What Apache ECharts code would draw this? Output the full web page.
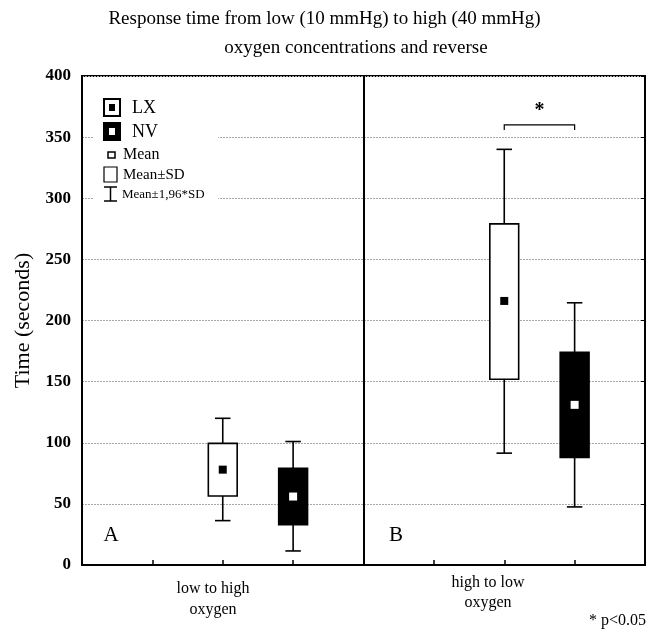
<!DOCTYPE html>
<html>
<head>
<meta charset="utf-8">
<script src="https://cdn.jsdelivr.net/npm/echarts@6/dist/echarts.min.js"></script>
<style>
  html, body { margin: 0; padding: 0; background: #fff; }
  #chart { width: 649px; height: 630px; }
</style>
</head>
<body>
<div id="chart"></div>
<script>
// 分组位置（x 轴 0-8，两个面板各占 4 格）
var categories = ['low to high\noxygen', 'high to low\noxygen'];
var lxPos = [2, 6];
var nvPos = [3, 7];

// LX 组
var lxMean = [78, 216];
var lxBoxLow = [56.5, 152];
var lxBoxHigh = [99.5, 279];
var lxWhiskerLow = [36.3, 91.5];
var lxWhiskerHigh = [120, 340];

// NV 组
var nvMean = [56, 131];
var nvBoxLow = [33, 88];
var nvBoxHigh = [79, 174];
var nvWhiskerLow = [11.5, 47.5];
var nvWhiskerHigh = [101, 214.5];

// 显著性标记
var sigFrom = [6];
var sigTo = [7];
var sigLevel = [360];

var yTicks = [0, 50, 100, 150, 200, 250, 300, 350, 400];

var serif = "'Liberation Serif', 'Times New Roman', serif";

function buildData (pos, wl, bl, m, bh, wh) {
  return pos.map(function (x, i) {
    return [x, wl[i], bl[i], m[i], bh[i], wh[i]];
  });
}

function makeRender (boxFill, meanFill) {
  return function (params, api) {
    var x = api.value(0);
    var pWL = api.coord([x, api.value(1)]);
    var pBL = api.coord([x, api.value(2)]);
    var pM = api.coord([x, api.value(3)]);
    var pBH = api.coord([x, api.value(4)]);
    var pWH = api.coord([x, api.value(5)]);
    var unit = api.size([1, 0])[0];
    var boxW = unit * 0.41;
    var capW = unit * 0.22;
    var ms = 8;
    var line = { stroke: '#000', lineWidth: 1.6 };
    return {
      type: 'group',
      children: [
        { type: 'line', shape: { x1: pWL[0], y1: pWL[1], x2: pBL[0], y2: pBL[1] }, style: line },
        { type: 'line', shape: { x1: pWH[0], y1: pWH[1], x2: pBH[0], y2: pBH[1] }, style: line },
        { type: 'line', shape: { x1: pWL[0] - capW / 2, y1: pWL[1], x2: pWL[0] + capW / 2, y2: pWL[1] }, style: line },
        { type: 'line', shape: { x1: pWH[0] - capW / 2, y1: pWH[1], x2: pWH[0] + capW / 2, y2: pWH[1] }, style: line },
        { type: 'rect', shape: { x: pBH[0] - boxW / 2, y: pBH[1], width: boxW, height: pBL[1] - pBH[1] },
          style: { fill: boxFill, stroke: '#000', lineWidth: 1.6 } },
        { type: 'rect', shape: { x: pM[0] - ms / 2, y: pM[1] - ms / 2, width: ms, height: ms },
          style: { fill: meanFill } }
      ]
    };
  };
}

var chart = echarts.init(document.getElementById('chart'));

chart.setOption({
  animation: false,
  backgroundColor: '#fff',
  grid: {
    left: 82, top: 76, right: 4, bottom: 65,
    outerBoundsMode: 'none',
    show: true, borderColor: '#000', borderWidth: 2
  },
  xAxis: {
    type: 'value', min: 0, max: 8, interval: 1,
    axisLine: { show: true, lineStyle: { color: '#000', width: 2 } },
    axisTick: { show: true, inside: true, length: 5, lineStyle: { color: '#000', width: 1.5 } },
    axisLabel: { show: false },
    splitLine: { show: false }
  },
  yAxis: [{
    type: 'value', min: 0, max: 400, interval: 50,
    name: 'Time (seconds)', nameLocation: 'middle', nameGap: 48,
    nameTextStyle: { fontFamily: serif, fontSize: 22, color: '#000' },
    axisLine: { show: true, lineStyle: { color: '#000', width: 2 } },
    axisTick: { show: false },
    axisLabel: {
      fontFamily: serif, fontSize: 17, fontWeight: 'bold', color: '#000', margin: 11,
      formatter: function (v) { return yTicks.indexOf(v) >= 0 ? String(v) : ''; }
    },
    splitLine: { show: true, lineStyle: { color: '#a8a8a8', type: [2, 1], width: 1 } }
  }, {
    type: 'value', min: 0, max: 400, interval: 50, position: 'right',
    axisLine: { show: true, lineStyle: { color: '#000', width: 2 } },
    axisTick: { show: true, inside: true, length: 4, lineStyle: { color: '#000' } },
    axisLabel: { show: false },
    splitLine: { show: false }
  }],
  series: [
    {
      name: 'LX', type: 'custom', z: 3,
      renderItem: makeRender('#fff', '#000'),
      encode: { x: 0, y: [1, 2, 3, 4, 5] },
      data: buildData(lxPos, lxWhiskerLow, lxBoxLow, lxMean, lxBoxHigh, lxWhiskerHigh),
      markLine: {
        silent: true, symbol: 'none', label: { show: false },
        lineStyle: { color: '#000', width: 2, type: 'solid' },
        data: [{ xAxis: 4 }]
      }
    },
    {
      name: 'NV', type: 'custom', z: 3,
      renderItem: makeRender('#000', '#fff'),
      encode: { x: 0, y: [1, 2, 3, 4, 5] },
      data: buildData(nvPos, nvWhiskerLow, nvBoxLow, nvMean, nvBoxHigh, nvWhiskerHigh)
    },
    {
      name: 'sig', type: 'custom', z: 3,
      renderItem: function (params, api) {
        var a = api.coord([api.value(0), api.value(2)]);
        var b = api.coord([api.value(1), api.value(2)]);
        return {
          type: 'group',
          children: [
            { type: 'polyline', shape: { points: [[a[0], a[1] + 5], a, b, [b[0], b[1] + 5]] },
              style: { stroke: '#000', lineWidth: 1.2, fill: 'none' } },
            { type: 'text', style: { text: '*', x: (a[0] + b[0]) / 2, y: a[1] - 14,
              textAlign: 'center', textVerticalAlign: 'middle',
              font: 'bold 20px ' + serif, fill: '#000' } }
          ]
        };
      },
      encode: { x: [0, 1], y: 2 },
      data: sigFrom.map(function (f, i) { return [f, sigTo[i], sigLevel[i]]; })
    }
  ],
  graphic: [
    // 标题
    { type: 'text', left: 'center', top: 10, z: 10,
      style: { text: 'Response time from low (10 mmHg) to high (40 mmHg)', font: '19px ' + serif, fill: '#000' } },
    { type: 'text', x: 356, y: 48, z: 10,
      style: { text: 'oxygen concentrations and reverse', font: '19px ' + serif, fill: '#000',
        textAlign: 'center', textVerticalAlign: 'middle' } },
    // 分类标签
    { type: 'text', x: 213, y: 599, z: 10,
      style: { text: categories[0], font: '16px ' + serif, fill: '#000', lineHeight: 21,
        textAlign: 'center', textVerticalAlign: 'middle' } },
    { type: 'text', x: 488, y: 593, z: 10,
      style: { text: categories[1], font: '16px ' + serif, fill: '#000', lineHeight: 20,
        textAlign: 'center', textVerticalAlign: 'middle' } },
    { type: 'text', x: 646, y: 621, z: 10,
      style: { text: '* p<0.05', font: '16px ' + serif, fill: '#000',
        textAlign: 'right', textVerticalAlign: 'middle' } },
    // 面板字母
    { type: 'text', x: 111, y: 535, z: 10,
      style: { text: 'A', font: '21px ' + serif, fill: '#000', textAlign: 'center', textVerticalAlign: 'middle' } },
    { type: 'text', x: 396, y: 535, z: 10,
      style: { text: 'B', font: '21px ' + serif, fill: '#000', textAlign: 'center', textVerticalAlign: 'middle' } },
    // 图例
    { type: 'rect', shape: { x: 93, y: 90, width: 125, height: 115 }, style: { fill: '#fff' }, z: 10 },
    { type: 'rect', shape: { x: 104, y: 99, width: 16, height: 17 }, style: { fill: '#fff', stroke: '#000', lineWidth: 2 }, z: 11 },
    { type: 'rect', shape: { x: 109, y: 104, width: 6, height: 7 }, style: { fill: '#000' }, z: 12 },
    { type: 'text', x: 132, y: 108, z: 11,
      style: { text: 'LX', font: '18px ' + serif, fill: '#000', textVerticalAlign: 'middle' } },
    { type: 'rect', shape: { x: 103, y: 122, width: 18, height: 19 }, style: { fill: '#000' }, z: 11 },
    { type: 'rect', shape: { x: 109, y: 128, width: 6, height: 7 }, style: { fill: '#fff' }, z: 12 },
    { type: 'text', x: 132, y: 132, z: 11,
      style: { text: 'NV', font: '18px ' + serif, fill: '#000', textVerticalAlign: 'middle' } },
    { type: 'rect', shape: { x: 108, y: 152, width: 7, height: 6 }, style: { fill: '#fff', stroke: '#000', lineWidth: 1.5 }, z: 11 },
    { type: 'text', x: 123, y: 155, z: 11,
      style: { text: 'Mean', font: '16px ' + serif, fill: '#000', textVerticalAlign: 'middle' } },
    { type: 'rect', shape: { x: 104, y: 167, width: 13, height: 15 }, style: { fill: '#fff', stroke: '#000', lineWidth: 1.2 }, z: 11 },
    { type: 'text', x: 123, y: 175, z: 11,
      style: { text: 'Mean±SD', font: '15px ' + serif, fill: '#000', textVerticalAlign: 'middle' } },
    { type: 'polyline', shape: { points: [[104, 187], [117, 187]] }, style: { stroke: '#000', lineWidth: 1.5 }, z: 11 },
    { type: 'polyline', shape: { points: [[104, 201], [117, 201]] }, style: { stroke: '#000', lineWidth: 1.5 }, z: 11 },
    { type: 'polyline', shape: { points: [[110.5, 187], [110.5, 201]] }, style: { stroke: '#000', lineWidth: 1.5 }, z: 11 },
    { type: 'text', x: 122, y: 195, z: 11,
      style: { text: 'Mean±1,96*SD', font: '13px ' + serif, fill: '#000', textVerticalAlign: 'middle' } }
  ]
});
</script>
</body>
</html>
